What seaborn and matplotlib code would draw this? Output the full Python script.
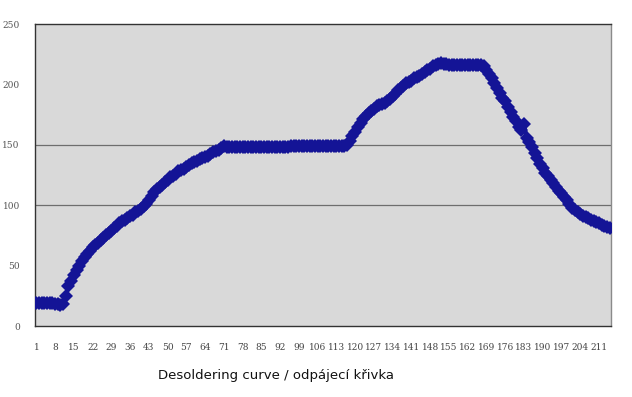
import pandas as pd
import seaborn as sns
import matplotlib.pyplot as plt
from matplotlib.ticker import MultipleLocator

# Temperature readings (one per sample)
temps = [
    19, 19, 19, 19, 19, 19, 19, 18, 18, 17,
    18, 25, 33, 37, 42, 46, 50, 54, 57, 60,
    62, 65, 67, 69, 71, 73, 75, 77, 79, 81,
    83, 85, 87, 88, 89, 91, 92, 94, 95, 97,
    99, 101, 104, 108, 111, 113, 115, 117, 119, 121,
    123, 124, 126, 128, 129, 130, 132, 133, 135, 136,
    137, 138, 139, 140, 141, 142, 144, 145, 146, 147,
    149, 148, 148, 148, 148, 148, 148, 148, 148, 148,
    148, 148, 148, 148, 148, 148, 148, 148, 148, 148,
    148, 148, 148, 148, 148, 149, 149, 149, 149, 149,
    149, 149, 149, 149, 149, 149, 149, 149, 149, 149,
    149, 149, 149, 149, 149, 149, 150, 153, 157, 161,
    165, 168, 171, 174, 176, 178, 180, 182, 183, 184,
    185, 186, 188, 190, 192, 195, 197, 199, 201, 202,
    203, 205, 206, 207, 209, 210, 212, 213, 215, 216,
    217, 218, 217, 217, 216, 216, 216, 216, 216, 216,
    216, 216, 216, 216, 216, 216, 216, 215, 212, 209,
    205, 201, 197, 193, 189, 186, 181, 177, 173, 170,
    165, 162, 167, 156, 152, 148, 143, 139, 134, 131,
    127, 124, 121, 118, 115, 112, 110, 107, 104, 101,
    98, 96, 94, 93, 91, 90, 89, 88, 87, 86,
    85, 84, 83, 82, 81,
]
samples = list(range(1, len(temps) + 1))
tick_labels = samples[::7]
grid_values = [100, 150]
title = "Desoldering curve / odpájecí křivka"

df = pd.DataFrame({"sample": samples, "temp": temps})

sns.set_style("white")
plt.rcParams["font.family"] = ["DejaVu Sans"]

fig = plt.figure(figsize=(6.32, 3.97), dpi=100)
ax = fig.add_axes([35 / 632, 71 / 397, 576 / 632, 302 / 397])
ax.set_facecolor("#d9d9d9")

for g in grid_values:
    ax.axhline(g, color="#6e6e6e", linewidth=0.9, zorder=1)

sns.lineplot(
    data=df, x="sample", y="temp", ax=ax,
    color="#141496", linewidth=3, marker="D", markersize=7.5,
    markeredgewidth=0, zorder=3,
)

ax.set_xlim(0.5, len(temps) + 0.5)
ax.set_ylim(0, 250)
ax.set_xticks(tick_labels)
ax.set_xticklabels([str(t) for t in tick_labels])
ax.xaxis.set_minor_locator(MultipleLocator(1))
ax.set_yticks([0, 50, 100, 150, 200, 250])
ax.set_xlabel("")
ax.set_ylabel("")

ax.tick_params(axis="x", which="major", direction="in", length=4, width=0.7,
               pad=12, labelsize=6.5, labelcolor="#444444", color="#333333")
ax.tick_params(axis="x", which="minor", direction="in", length=2.5, width=0.5,
               color="#333333")
ax.tick_params(axis="y", direction="out", length=3, width=0.7, pad=8,
               labelsize=6.5, labelcolor="#555555", color="#333333")
for lbl in ax.get_xticklabels() + ax.get_yticklabels():
    lbl.set_family("DejaVu Serif")

for side in ["left", "bottom", "top"]:
    ax.spines[side].set_color("#333333")
    ax.spines[side].set_linewidth(1.0)
ax.spines["right"].set_color("#8a8a8a")
ax.spines["right"].set_linewidth(1.0)

fig.text(276 / 632, 1 - 375 / 397, title, ha="center", va="center",
         fontsize=9.5, color="#111111")

fig.savefig("out.png", dpi=100)
